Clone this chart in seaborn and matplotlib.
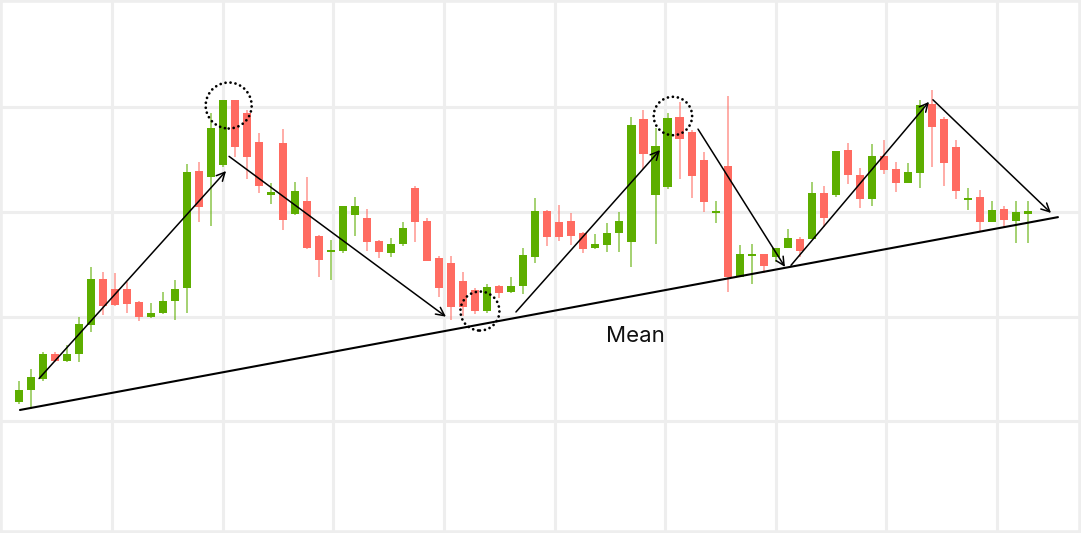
import numpy as np
import pandas as pd
import matplotlib
matplotlib.use("Agg")
import matplotlib.pyplot as plt
from matplotlib.patches import Ellipse
import seaborn as sns

# Candle data (open, high, low, close)
opens = [101.9, 103.0, 104.1, 106.4, 105.8, 106.4, 109.2, 113.6, 112.6, 112.6,
         111.4, 110.0, 110.4, 111.5, 112.7, 123.9, 123.3, 124.5, 130.7, 129.4,
         126.7, 121.7, 126.6, 119.8, 121.0, 117.7, 116.2, 116.3, 119.7, 119.4,
         117.2, 116.1, 116.9, 122.3, 119.1, 115.6, 115.1, 113.4, 112.5, 110.5,
         112.9, 112.4, 112.9, 115.7, 120.1, 119.0, 119.1, 118.0, 116.6, 116.8,
         118.0, 117.1, 128.9, 121.6, 122.4, 129.1, 127.6, 125.0, 119.9, 124.4,
         113.8, 115.8, 116.0, 115.7, 116.6, 117.4, 117.4, 121.8, 121.6, 125.9,
         123.5, 121.2, 125.3, 124.1, 122.8, 123.7, 130.3, 128.9, 126.2, 121.1,
         121.4, 119.0, 120.3, 119.1, 119.9]
highs = [103.9, 105.0, 106.6, 106.6, 107.3, 110.0, 114.7, 114.3, 114.2, 113.3,
         111.5, 111.3, 112.4, 113.5, 124.6, 124.8, 129.4, 130.7, 130.7, 129.7,
         127.5, 122.8, 127.9, 122.9, 123.3, 117.8, 117.3, 120.6, 121.4, 120.3,
         117.3, 117.5, 119.0, 122.5, 119.4, 115.8, 115.8, 114.3, 112.7, 113.1,
         113.0, 113.8, 116.6, 121.3, 120.2, 120.7, 119.9, 118.1, 117.9, 118.9,
         120.0, 129.1, 129.7, 128.0, 129.4, 130.5, 127.8, 125.7, 121.0, 131.1,
         116.8, 116.9, 116.0, 116.6, 118.4, 117.6, 122.9, 122.5, 125.8, 126.6,
         124.2, 126.5, 126.9, 124.8, 124.7, 130.7, 131.6, 129.1, 126.9, 122.3,
         122.1, 121.0, 120.6, 121.0, 121.0]
lows = [101.7, 101.2, 103.9, 105.7, 105.7, 105.7, 108.5, 110.2, 111.0, 110.4,
        109.6, 109.9, 110.3, 109.7, 110.4, 119.0, 118.7, 124.3, 125.2, 123.1,
        121.8, 120.8, 118.3, 119.7, 116.5, 113.8, 113.5, 116.1, 117.7, 116.3,
        115.6, 115.7, 116.7, 117.1, 115.3, 111.9, 109.7, 110.1, 110.3, 110.4,
        111.8, 112.3, 112.2, 115.1, 116.7, 117.2, 116.8, 116.1, 116.5, 116.2,
        116.2, 114.7, 124.1, 116.9, 122.2, 123.1, 121.3, 120.0, 118.9, 112.4,
        113.8, 113.1, 114.2, 115.2, 116.6, 115.7, 117.4, 118.6, 121.4, 122.7,
        120.4, 120.6, 123.6, 121.9, 122.8, 122.3, 124.3, 122.5, 121.2, 120.2,
        118.1, 119.0, 118.6, 117.0, 117.0]
closes = [103.0, 104.2, 106.4, 105.8, 106.4, 109.3, 113.6, 111.0, 111.1, 111.2,
          110.0, 110.4, 111.5, 112.6, 123.8, 120.5, 128.0, 130.7, 126.2, 125.2,
          122.5, 121.8, 119.2, 122.0, 116.6, 115.4, 116.4, 120.6, 120.6, 117.1,
          116.2, 116.9, 118.5, 119.0, 115.3, 112.7, 110.9, 110.9, 110.5, 112.8,
          112.3, 112.9, 115.9, 120.1, 117.6, 117.6, 117.7, 116.5, 116.9, 118.0,
          119.1, 128.3, 125.5, 126.3, 129.0, 127.0, 123.4, 120.9, 120.1, 113.8,
          116.0, 116.0, 114.8, 116.6, 117.5, 116.3, 121.8, 119.4, 125.8, 123.5,
          121.2, 125.3, 124.0, 122.8, 123.8, 130.2, 128.1, 124.7, 122.0, 121.3,
          119.0, 120.2, 119.2, 120.0, 120.0]

# Trend arrows (start -> end), mean line and highlighted turning points
arrows = [((1.67, 104.1), (17.24, 123.9)),
          ((17.49, 125.3), (35.55, 110.0)),
          ((41.38, 110.45), (53.37, 125.9)),
          ((56.54, 127.9), (63.78, 114.75)),
          ((64.28, 114.9), (75.77, 130.5)),
          ((76.10, 130.7), (85.93, 119.9))]
mean_line = ((0.08, 101.1), (86.51, 119.5))
circles = [(17.46, 130.15, 23.0), (38.38, 110.54, 19.5), (54.45, 129.15, 19.2)]

GREEN = "#5DAE00"
RED = "#FF6B61"

df = pd.DataFrame({"open": opens, "high": highs, "low": lows, "close": closes})
df["x"] = np.arange(len(df))
df["up"] = df["close"] >= df["open"]
df["bottom"] = df[["open", "close"]].min(axis=1)
df["height"] = (df["close"] - df["open"]).abs().clip(lower=0.22)
df["bottom"] = df[["open", "close"]].mean(axis=1) - df["height"] / 2
df["color"] = np.where(df["up"], GREEN, RED)

sns.set_style("white")
plt.rcParams["font.family"] = ["Inter", "DejaVu Sans"]

W, H = 1081, 533
fig = plt.figure(figsize=(W / 100, H / 100), dpi=100)
ax = fig.add_axes([0, 0, 1, 1])

x_lo, x_hi = -1.582, 88.43
y_lo, y_hi = 89.36, 140.22
ax.set_xlim(x_lo, x_hi)
ax.set_ylim(y_lo, y_hi)
px_x = W / (x_hi - x_lo)
px_y = H / (y_hi - y_lo)

# grid
ax.set_xticks(7.777 + 9.205 * np.arange(9))
ax.set_yticks([100, 110, 120, 130])
ax.grid(True, color="#eeeeee", lw=2.2, zorder=0)
ax.set_axisbelow(True)
ax.tick_params(length=0, labelbottom=False, labelleft=False)
for s in ax.spines.values():
    s.set_color("#eeeeee")
    s.set_linewidth(4)

# candles
ax.vlines(df["x"], df["low"], df["high"], colors=df["color"], alpha=0.6, lw=1.3, zorder=2)
ax.bar(df["x"], df["height"], bottom=df["bottom"], width=0.67, color=df["color"],
       edgecolor="none", zorder=3)

# mean line
(mx0, my0), (mx1, my1) = mean_line
ax.plot([mx0, mx1], [my0, my1], color="black", lw=1.5, zorder=4)
ax.text(51.37, 107.6, "Mean", fontsize=16, ha="center", va="baseline", color="#111111")

for (x0, y0), (x1, y1) in arrows:
    ax.annotate("", xy=(x1, y1), xytext=(x0, y0), zorder=5,
                arrowprops=dict(arrowstyle="->,head_length=0.6,head_width=0.3",
                                color="black", lw=1.1, shrinkA=0, shrinkB=0))

for cx, cy, r in circles:
    e = Ellipse((cx, cy), 2 * r / px_x, 2 * r / px_y, fill=False, edgecolor="black",
                lw=2.0, linestyle=(0, (0.01, 1.8)), capstyle="round", zorder=6)
    ax.add_patch(e)

fig.savefig("out.png", dpi=100)
